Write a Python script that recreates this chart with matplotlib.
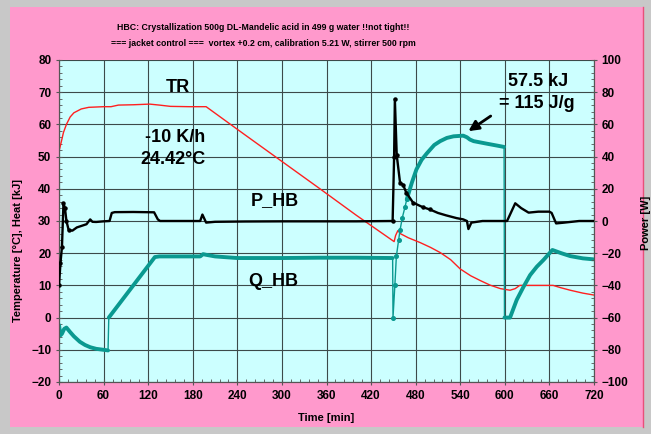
import numpy as np
import matplotlib
matplotlib.use("Agg")
import matplotlib.pyplot as plt
from matplotlib.patches import Rectangle
from matplotlib.lines import Line2D
from matplotlib.ticker import MultipleLocator

plt.rcParams['font.family'] = ['Liberation Sans', 'DejaVu Sans']

# ---- data -------------------------------------------------------------
# reactor temperature TR [°C]
tr_t = [0, 3, 6, 10, 15, 20, 30, 40, 60, 70, 80, 100, 122, 135, 150, 175, 198,
        250, 300, 350, 400, 451, 453, 456, 460, 470, 486, 500, 513, 527, 540,
        554, 567, 580, 594, 607, 614, 620, 665, 675, 688, 705, 720]
tr_v = [51.7, 54.5, 57.5, 60.0, 62.3, 63.6, 64.8, 65.3, 65.5, 65.5, 66.0, 66.1,
        66.3, 66.0, 65.6, 65.5, 65.5, 56.8, 48.5, 40.2, 31.8, 23.6, 25.5, 27.0,
        26.0, 24.8, 23.3, 21.8, 20.2, 18.0, 15.1, 13.0, 11.5, 10.1, 9.0, 8.5,
        9.0, 10.0, 10.0, 9.3, 8.5, 7.6, 7.0]

# heat-balance power P_HB [W]
p_t = [0, 2, 4, 6, 8, 10, 13, 18, 24, 37, 42, 45, 50, 60, 68, 71, 75, 100, 128,
       133, 136, 150, 190, 193, 196, 198, 210, 250, 300, 350, 400, 449, 451,
       452, 454.5, 459, 463, 467.5, 476.5, 490, 499, 510, 521, 535, 544, 549,
       551, 555, 570, 590, 603, 608, 614, 622, 632, 645, 660, 663, 669, 680,
       700, 720]
p_v = [-40, -26, -16, 11, 8, 0, -5.6, -6, -4, -2, 1, -0.5, -0.6, -0.2, 0, 5,
       5.5, 5.6, 5.4, 1, 0, 0, 0, 4, 1, -1, -0.5, -0.3, -0.2, -0.2, -0.2, 0,
       40, 75.7, 41, 23.7, 22.5, 17.5, 11.4, 8.5, 7.2, 5, 3.5, 1.8, 1, 0, -5,
       -1, 0, 0, 0, 5, 11, 8, 5.2, 5.8, 5.8, 5, -1.5, -1, 0, 0]

# accumulated heat Q_HB [kJ]
q_t = [0, 2, 4, 7, 10, 15, 20, 28, 35, 42, 50, 60, 66, 67, 129, 135, 190, 194,
       198, 210, 240, 300, 350, 400, 449, 449.5, 452, 454, 457, 459, 462,
       465.7, 468, 475, 481, 488, 495, 505, 513, 522, 531, 544, 549, 553, 558,
       576, 590, 599, 599.5, 607, 616, 625, 634, 643, 652, 664, 676, 688, 705,
       719]
q_v = [-2.3, -5.5, -5.0, -3.5, -3.1, -4.5, -5.8, -7.5, -8.5, -9.2, -9.7, -10.0,
       -10.2, 0.0, 18.8, 19.0, 19.0, 19.7, 19.5, 19.0, 18.5, 18.5, 18.6, 18.6,
       18.5, 0.0, 10.0, 19.0, 24.0, 27.2, 31.0, 34.4, 36.7, 42.0, 46.0, 49.0,
       51.0, 53.6, 54.8, 55.8, 56.3, 56.5, 56.0, 55.3, 54.8, 54.0, 53.4, 53.0,
       0.0, 0.0, 5.5, 9.5, 13.2, 15.8, 17.9, 21.0, 20.0, 19.1, 18.4, 18.1]

x_ticks = list(range(0, 721, 60))
left_ticks = list(range(-20, 81, 10))
right_ticks = list(range(-100, 101, 20))

title_lines = ["HBC: Crystallization 500g DL-Mandelic acid in 499 g water !!not tight!!",
               "=== jacket control ===  vortex +0.2 cm, calibration 5.21 W, stirrer 500 rpm"]

# ---- figure -----------------------------------------------------------
W, H = 651, 434
fig = plt.figure(figsize=(W / 100, H / 100), dpi=100, facecolor='#c8c8c8')

# pink panel behind everything
fig.patches.append(Rectangle((10 / W, 1 - 427 / H), 633 / W, 420 / H,
                             transform=fig.transFigure, facecolor='#ff99cc',
                             edgecolor='none', zorder=-10))
fig.lines.append(Line2D([643 / W, 643 / W], [1 - 427 / H, 1 - 7 / H],
                        transform=fig.transFigure, color='#e8507a', lw=1.0,
                        zorder=-9))

ax = fig.add_axes([59 / W, 1 - 382 / H, 535 / W, 322 / H])
ax.set_zorder(1)
ax.set_facecolor('#ccffff')
ax.set_xlim(0, 720)
ax.set_ylim(-20, 80)
ax.set_xticks(x_ticks)
ax.set_yticks(left_ticks)
ax.xaxis.set_minor_locator(MultipleLocator(12))
ax.yaxis.set_minor_locator(MultipleLocator(2))
ax.grid(True, which='major', color='#3c4a4a', lw=0.8)
ax.set_axisbelow(True)

ax2 = ax.twinx()
ax2.set_zorder(2)
ax2.patch.set_visible(False)
ax2.set_ylim(-100, 100)
ax2.set_yticks(right_ticks)
ax2.yaxis.set_minor_locator(MultipleLocator(4))

for a in (ax, ax2):
    for s in a.spines.values():
        s.set_color('#555555')
        s.set_linewidth(0.8)
    a.tick_params(which='major', direction='inout', length=5, width=0.8,
                  color='#555555', labelsize=8.5, pad=3)
    a.tick_params(which='minor', direction='in', length=2.5, width=0.6,
                  color='#555555')
    for lab in a.get_xticklabels() + a.get_yticklabels():
        lab.set_fontweight('bold')
ax.spines['top'].set_visible(False)
ax2.spines['top'].set_visible(False)

teal = '#0a9990'
qt = np.array(q_t)
qv = np.array(q_v)

# TR
ax.plot(tr_t, tr_v, color='#ff2020', lw=1.0, zorder=3)

# Q_HB: thin connecting line, dense stretches drawn thick, steep rise as dots
ax.plot(qt, qv, color=teal, lw=1.0, zorder=4)
for a_, b_ in [(0, 66), (67, 449), (468, 599), (599.5, 720)]:
    m = (qt >= a_) & (qt <= b_)
    ax.plot(qt[m], qv[m], color=teal, lw=2.8, solid_capstyle='round',
            solid_joinstyle='round', zorder=4)
m = (qt >= 449.5) & (qt <= 468)
ax.plot(qt[m], qv[m], ls='none', marker='o', ms=2.6, color=teal, zorder=4)

# P_HB on the power axis
pt = np.array(p_t)
pv = np.array(p_v)
ax2.plot(pt, pv, color='black', lw=1.7, zorder=5)
m = (pt <= 13) | ((pt >= 449) & (pt <= 500))
ax2.plot(pt[m], pv[m], ls='none', marker='o', ms=2.2, color='black', zorder=5)

# labels inside the plot
big = dict(fontsize=13, fontweight='bold', ha='center', va='center', color='black')
ax.text(160, 71.4, 'TR', **big)
ax.text(156, 55.8, '-10 K/h', **big)
ax.text(154, 49.0, '24.42°C', **big)
ax.text(291, 36.3, 'P_HB', **big)
ax.text(288, 11.1, 'Q_HB', **big)
ax.text(645, 73.3, '57.5 kJ', **big)
ax.text(643, 66.5, '= 115 J/g', **big)
ax.annotate('', xy=(551, 57.9), xytext=(581, 62.6),
            arrowprops=dict(arrowstyle='-|>,head_length=0.6,head_width=0.3',
                            color='black', lw=2.0, shrinkA=0, shrinkB=0))

# axis titles
ax.set_ylabel('Temperature [°C], Heat [kJ]', fontsize=8, fontweight='bold')
ax.yaxis.set_label_coords((23 - 59) / 535, (382 - 250) / 322)
ax2.set_ylabel('Power [W]', fontsize=8, fontweight='bold', rotation=90)
ax2.yaxis.set_label_coords((641 - 59) / 535, (382 - 223) / 322)
ax.set_xlabel('Time [min]', fontsize=8, fontweight='bold')
ax.xaxis.set_label_coords((326 - 59) / 535, (382 - 413) / 322)

fig.text(263 / W, 1 - 28 / H, title_lines[0], ha='center', va='center',
         fontsize=6.35, fontweight='bold')
fig.text(263 / W, 1 - 43 / H, title_lines[1], ha='center', va='center',
         fontsize=6.35, fontweight='bold')

fig.savefig('out.png', dpi=100, facecolor=fig.get_facecolor())
